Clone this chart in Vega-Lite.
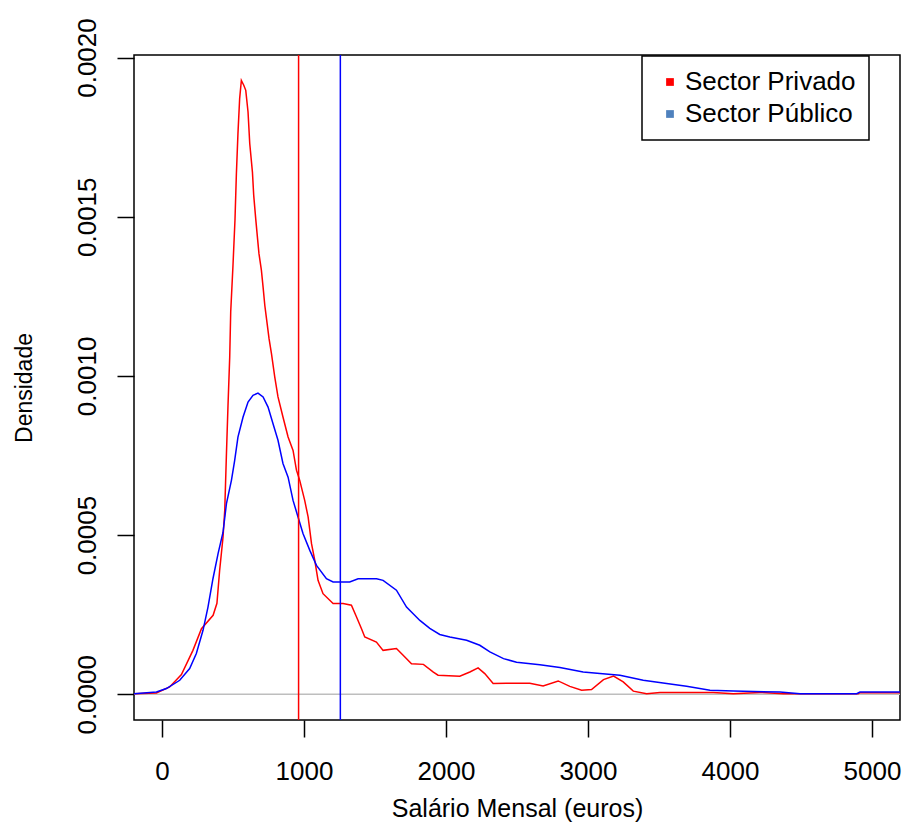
{
  "$schema": "https://vega.github.io/schema/vega-lite/v6.json",
  "width": 766,
  "height": 665,
  "autosize": "none",
  "padding": {"left": 134, "top": 55, "right": 4, "bottom": 106},
  "background": "white",
  "datasets": {
    "dens": [
      {"salario": -197, "densidade": 0.000002, "sector": "Sector Privado"},
      {"salario": -39, "densidade": 0.000004, "sector": "Sector Privado"},
      {"salario": 54, "densidade": 0.000023, "sector": "Sector Privado"},
      {"salario": 137, "densidade": 0.000062, "sector": "Sector Privado"},
      {"salario": 218, "densidade": 0.000138, "sector": "Sector Privado"},
      {"salario": 278, "densidade": 0.000206, "sector": "Sector Privado"},
      {"salario": 360, "densidade": 0.000248, "sector": "Sector Privado"},
      {"salario": 387, "densidade": 0.000286, "sector": "Sector Privado"},
      {"salario": 406, "densidade": 0.000389, "sector": "Sector Privado"},
      {"salario": 430, "densidade": 0.000494, "sector": "Sector Privado"},
      {"salario": 442, "densidade": 0.000578, "sector": "Sector Privado"},
      {"salario": 454, "densidade": 0.000756, "sector": "Sector Privado"},
      {"salario": 465, "densidade": 0.000908, "sector": "Sector Privado"},
      {"salario": 477, "densidade": 0.001059, "sector": "Sector Privado"},
      {"salario": 484, "densidade": 0.001201, "sector": "Sector Privado"},
      {"salario": 500, "densidade": 0.001347, "sector": "Sector Privado"},
      {"salario": 514, "densidade": 0.001489, "sector": "Sector Privado"},
      {"salario": 524, "densidade": 0.001635, "sector": "Sector Privado"},
      {"salario": 535, "densidade": 0.001761, "sector": "Sector Privado"},
      {"salario": 547, "densidade": 0.001871, "sector": "Sector Privado"},
      {"salario": 559, "densidade": 0.001928, "sector": "Sector Privado"},
      {"salario": 576, "densidade": 0.001913, "sector": "Sector Privado"},
      {"salario": 590, "densidade": 0.001897, "sector": "Sector Privado"},
      {"salario": 606, "densidade": 0.001829, "sector": "Sector Privado"},
      {"salario": 618, "densidade": 0.001730, "sector": "Sector Privado"},
      {"salario": 637, "densidade": 0.001640, "sector": "Sector Privado"},
      {"salario": 646, "densidade": 0.001567, "sector": "Sector Privado"},
      {"salario": 660, "densidade": 0.001494, "sector": "Sector Privado"},
      {"salario": 672, "densidade": 0.001436, "sector": "Sector Privado"},
      {"salario": 683, "densidade": 0.001384, "sector": "Sector Privado"},
      {"salario": 700, "densidade": 0.001332, "sector": "Sector Privado"},
      {"salario": 712, "densidade": 0.001279, "sector": "Sector Privado"},
      {"salario": 724, "densidade": 0.001222, "sector": "Sector Privado"},
      {"salario": 736, "densidade": 0.001180, "sector": "Sector Privado"},
      {"salario": 754, "densidade": 0.001117, "sector": "Sector Privado"},
      {"salario": 771, "densidade": 0.001070, "sector": "Sector Privado"},
      {"salario": 794, "densidade": 0.000997, "sector": "Sector Privado"},
      {"salario": 817, "densidade": 0.000934, "sector": "Sector Privado"},
      {"salario": 852, "densidade": 0.000871, "sector": "Sector Privado"},
      {"salario": 888, "densidade": 0.000808, "sector": "Sector Privado"},
      {"salario": 923, "densidade": 0.000766, "sector": "Sector Privado"},
      {"salario": 947, "densidade": 0.000704, "sector": "Sector Privado"},
      {"salario": 970, "densidade": 0.000672, "sector": "Sector Privado"},
      {"salario": 1005, "densidade": 0.000609, "sector": "Sector Privado"},
      {"salario": 1029, "densidade": 0.000557, "sector": "Sector Privado"},
      {"salario": 1053, "densidade": 0.000473, "sector": "Sector Privado"},
      {"salario": 1076, "densidade": 0.000421, "sector": "Sector Privado"},
      {"salario": 1099, "densidade": 0.000358, "sector": "Sector Privado"},
      {"salario": 1134, "densidade": 0.000316, "sector": "Sector Privado"},
      {"salario": 1205, "densidade": 0.000285, "sector": "Sector Privado"},
      {"salario": 1275, "densidade": 0.000285, "sector": "Sector Privado"},
      {"salario": 1334, "densidade": 0.000280, "sector": "Sector Privado"},
      {"salario": 1370, "densidade": 0.000243, "sector": "Sector Privado"},
      {"salario": 1405, "densidade": 0.000206, "sector": "Sector Privado"},
      {"salario": 1428, "densidade": 0.000180, "sector": "Sector Privado"},
      {"salario": 1510, "densidade": 0.000164, "sector": "Sector Privado"},
      {"salario": 1557, "densidade": 0.000138, "sector": "Sector Privado"},
      {"salario": 1651, "densidade": 0.000144, "sector": "Sector Privado"},
      {"salario": 1700, "densidade": 0.000122, "sector": "Sector Privado"},
      {"salario": 1757, "densidade": 0.000096, "sector": "Sector Privado"},
      {"salario": 1841, "densidade": 0.000094, "sector": "Sector Privado"},
      {"salario": 1911, "densidade": 0.000070, "sector": "Sector Privado"},
      {"salario": 1944, "densidade": 0.000060, "sector": "Sector Privado"},
      {"salario": 2097, "densidade": 0.000057, "sector": "Sector Privado"},
      {"salario": 2168, "densidade": 0.000070, "sector": "Sector Privado"},
      {"salario": 2226, "densidade": 0.000083, "sector": "Sector Privado"},
      {"salario": 2273, "densidade": 0.000065, "sector": "Sector Privado"},
      {"salario": 2332, "densidade": 0.000034, "sector": "Sector Privado"},
      {"salario": 2426, "densidade": 0.000035, "sector": "Sector Privado"},
      {"salario": 2590, "densidade": 0.000035, "sector": "Sector Privado"},
      {"salario": 2684, "densidade": 0.000026, "sector": "Sector Privado"},
      {"salario": 2790, "densidade": 0.000042, "sector": "Sector Privado"},
      {"salario": 2872, "densidade": 0.000025, "sector": "Sector Privado"},
      {"salario": 2955, "densidade": 0.000013, "sector": "Sector Privado"},
      {"salario": 3025, "densidade": 0.000015, "sector": "Sector Privado"},
      {"salario": 3109, "densidade": 0.000046, "sector": "Sector Privado"},
      {"salario": 3180, "densidade": 0.000057, "sector": "Sector Privado"},
      {"salario": 3248, "densidade": 0.000039, "sector": "Sector Privado"},
      {"salario": 3319, "densidade": 0.000010, "sector": "Sector Privado"},
      {"salario": 3413, "densidade": 0.000002, "sector": "Sector Privado"},
      {"salario": 3507, "densidade": 0.000006, "sector": "Sector Privado"},
      {"salario": 3882, "densidade": 0.000006, "sector": "Sector Privado"},
      {"salario": 4023, "densidade": 0.000002, "sector": "Sector Privado"},
      {"salario": 4211, "densidade": 0.000006, "sector": "Sector Privado"},
      {"salario": 4375, "densidade": 0.000002, "sector": "Sector Privado"},
      {"salario": 4903, "densidade": 0.000002, "sector": "Sector Privado"},
      {"salario": 4915, "densidade": 0.000005, "sector": "Sector Privado"},
      {"salario": 5197, "densidade": 0.000005, "sector": "Sector Privado"},
      {"salario": -197, "densidade": 0.000002, "sector": "Sector Público"},
      {"salario": -39, "densidade": 0.000007, "sector": "Sector Público"},
      {"salario": 31, "densidade": 0.000018, "sector": "Sector Público"},
      {"salario": 125, "densidade": 0.000044, "sector": "Sector Público"},
      {"salario": 195, "densidade": 0.000081, "sector": "Sector Público"},
      {"salario": 242, "densidade": 0.000128, "sector": "Sector Público"},
      {"salario": 289, "densidade": 0.000201, "sector": "Sector Público"},
      {"salario": 324, "densidade": 0.000274, "sector": "Sector Público"},
      {"salario": 359, "densidade": 0.000363, "sector": "Sector Público"},
      {"salario": 395, "densidade": 0.000442, "sector": "Sector Público"},
      {"salario": 430, "densidade": 0.000509, "sector": "Sector Público"},
      {"salario": 454, "densidade": 0.000599, "sector": "Sector Público"},
      {"salario": 489, "densidade": 0.000672, "sector": "Sector Público"},
      {"salario": 512, "densidade": 0.000735, "sector": "Sector Público"},
      {"salario": 535, "densidade": 0.000808, "sector": "Sector Público"},
      {"salario": 571, "densidade": 0.000871, "sector": "Sector Público"},
      {"salario": 606, "densidade": 0.000918, "sector": "Sector Público"},
      {"salario": 641, "densidade": 0.000939, "sector": "Sector Público"},
      {"salario": 676, "densidade": 0.000946, "sector": "Sector Público"},
      {"salario": 712, "densidade": 0.000934, "sector": "Sector Público"},
      {"salario": 747, "densidade": 0.000902, "sector": "Sector Público"},
      {"salario": 782, "densidade": 0.000850, "sector": "Sector Público"},
      {"salario": 817, "densidade": 0.000798, "sector": "Sector Público"},
      {"salario": 852, "densidade": 0.000725, "sector": "Sector Público"},
      {"salario": 888, "densidade": 0.000682, "sector": "Sector Público"},
      {"salario": 923, "densidade": 0.000609, "sector": "Sector Público"},
      {"salario": 958, "densidade": 0.000557, "sector": "Sector Público"},
      {"salario": 993, "densidade": 0.000505, "sector": "Sector Público"},
      {"salario": 1041, "densidade": 0.000452, "sector": "Sector Público"},
      {"salario": 1088, "densidade": 0.000405, "sector": "Sector Público"},
      {"salario": 1158, "densidade": 0.000363, "sector": "Sector Público"},
      {"salario": 1205, "densidade": 0.000353, "sector": "Sector Público"},
      {"salario": 1322, "densidade": 0.000353, "sector": "Sector Público"},
      {"salario": 1381, "densidade": 0.000363, "sector": "Sector Público"},
      {"salario": 1511, "densidade": 0.000363, "sector": "Sector Público"},
      {"salario": 1557, "densidade": 0.000358, "sector": "Sector Público"},
      {"salario": 1651, "densidade": 0.000327, "sector": "Sector Público"},
      {"salario": 1722, "densidade": 0.000274, "sector": "Sector Público"},
      {"salario": 1816, "densidade": 0.000232, "sector": "Sector Público"},
      {"salario": 1886, "densidade": 0.000207, "sector": "Sector Público"},
      {"salario": 1956, "densidade": 0.000188, "sector": "Sector Público"},
      {"salario": 2027, "densidade": 0.000180, "sector": "Sector Público"},
      {"salario": 2145, "densidade": 0.000170, "sector": "Sector Público"},
      {"salario": 2238, "densidade": 0.000154, "sector": "Sector Público"},
      {"salario": 2309, "densidade": 0.000133, "sector": "Sector Público"},
      {"salario": 2405, "densidade": 0.000112, "sector": "Sector Público"},
      {"salario": 2497, "densidade": 0.000101, "sector": "Sector Público"},
      {"salario": 2661, "densidade": 0.000093, "sector": "Sector Público"},
      {"salario": 2802, "densidade": 0.000084, "sector": "Sector Público"},
      {"salario": 2966, "densidade": 0.000070, "sector": "Sector Público"},
      {"salario": 3084, "densidade": 0.000065, "sector": "Sector Público"},
      {"salario": 3225, "densidade": 0.000060, "sector": "Sector Público"},
      {"salario": 3389, "densidade": 0.000044, "sector": "Sector Público"},
      {"salario": 3554, "densidade": 0.000034, "sector": "Sector Público"},
      {"salario": 3694, "densidade": 0.000025, "sector": "Sector Público"},
      {"salario": 3859, "densidade": 0.000013, "sector": "Sector Público"},
      {"salario": 4023, "densidade": 0.000010, "sector": "Sector Público"},
      {"salario": 4352, "densidade": 0.000007, "sector": "Sector Público"},
      {"salario": 4493, "densidade": 0.000002, "sector": "Sector Público"},
      {"salario": 4892, "densidade": 0.000002, "sector": "Sector Público"},
      {"salario": 4915, "densidade": 0.000007, "sector": "Sector Público"},
      {"salario": 5197, "densidade": 0.000007, "sector": "Sector Público"}
    ],
    "medias": [
      {"salario": 962, "sector": "Sector Privado"},
      {"salario": 1256, "sector": "Sector Público"}
    ],
    "zero": [
      {"densidade": 0}
    ]
  },
  "config": {
    "view": {"stroke": "#000000", "strokeWidth": 1.5},
    "font": "Liberation Sans"
  },
  "layer": [
    {
      "data": {"name": "zero"},
      "mark": {"type": "rule", "color": "#BEBEBE", "strokeWidth": 1.5},
      "encoding": {
        "y": {"field": "densidade", "type": "quantitative", "scale": {"domain": [-0.0000807, 0.0020079], "nice": false, "zero": false}}
      }
    },
    {
      "data": {"name": "dens"},
      "mark": {"type": "line", "strokeWidth": 1.5, "clip": true},
      "encoding": {
        "x": {
          "field": "salario", "type": "quantitative",
          "scale": {"domain": [-197, 5197], "nice": false, "zero": false},
          "axis": {
            "title": "Salário Mensal (euros)",
            "values": [0, 1000, 2000, 3000, 4000, 5000],
            "format": "d",
            "domain": false,
            "grid": false,
            "tickColor": "#000000", "tickSize": 17, "tickWidth": 1.5,
            "labelFont": "Liberation Sans", "labelFontSize": 26, "labelColor": "#000000", "labelPadding": 21,
            "labelFlush": false, "labelOverlap": false,
            "titleFont": "Liberation Sans", "titleFontSize": 25, "titleFontWeight": "normal", "titleColor": "#000000", "titlePadding": 12
          }
        },
        "y": {
          "field": "densidade", "type": "quantitative",
          "scale": {"domain": [-0.0000807, 0.0020079], "nice": false, "zero": false},
          "axis": {
            "title": "Densidade",
            "values": [0, 0.0005, 0.001, 0.0015, 0.002],
            "format": ".4f",
            "domain": false,
            "grid": false,
            "tickColor": "#000000", "tickSize": 17, "tickWidth": 1.5,
            "labelFont": "Liberation Sans", "labelFontSize": 26, "labelColor": "#000000",
            "labelAngle": 270, "labelAlign": "center", "labelBaseline": "alphabetic", "labelPadding": 22,
            "labelFlush": false, "labelOverlap": false,
            "titleFont": "Liberation Sans", "titleFontSize": 23, "titleFontWeight": "normal", "titleColor": "#000000", "titlePadding": 38
          }
        },
        "color": {
          "field": "sector", "type": "nominal",
          "scale": {"domain": ["Sector Privado", "Sector Público"], "range": ["#FF0000", "#0000FF"]},
          "legend": {
            "title": null,
            "orient": "none",
            "legendX": 508,
            "legendY": 1,
            "padding": 13,
            "fillColor": "#FFFFFF",
            "strokeColor": "#000000",
            "symbolType": "square",
            "symbolSize": 60,
            "symbolOffset": 2,
            "symbolStrokeWidth": 0,
            "labelOffset": 2,
            "labelLimit": 400,
            "labelFont": "Liberation Sans",
            "labelFontSize": 26,
            "labelColor": "#000000",
            "rowPadding": 6,
            "encode": {
              "legend": {"update": {"strokeWidth": {"value": 1.5}}},
              "symbols": {"update": {
                "fill": {"signal": "datum.value === 'Sector Privado' ? '#FF0000' : '#4F81BD'"},
                "stroke": {"signal": "datum.value === 'Sector Privado' ? '#FF0000' : '#4F81BD'"},
                "strokeWidth": {"value": 0}
              }}
            }
          }
        }
      }
    },
    {
      "data": {"name": "medias"},
      "mark": {"type": "rule", "strokeWidth": 1.5},
      "encoding": {
        "x": {"field": "salario", "type": "quantitative"},
        "color": {"field": "sector", "type": "nominal"}
      }
    }
  ]
}
